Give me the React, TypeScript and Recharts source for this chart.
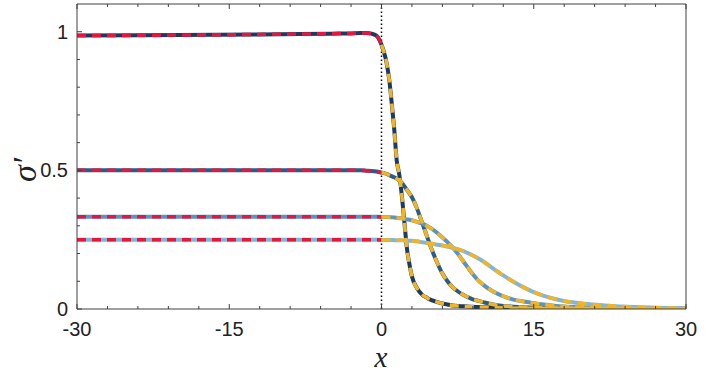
import { Line, LineChart, ReferenceLine, XAxis, YAxis } from "recharts";

const X = [
  -30, -20, -10, -5, -3, -2, -1.5, -1, -0.5, 0, 0.25, 0.5, 0.75, 1, 1.25, 1.5, 1.75, 2, 2.25, 2.5, 2.75, 3,
  3.5, 4, 4.5, 5, 5.5, 6, 6.5, 7, 7.5, 8, 8.5, 9, 9.5, 10, 11, 12, 13, 14, 15, 16, 17, 18, 20, 22, 25, 30,
];

// sigma' for the four cases
const S1 = [
  0.986, 0.988, 0.991, 0.993, 0.994, 0.995, 0.995, 0.993, 0.986, 0.953, 0.925, 0.888, 0.83, 0.745, 0.65, 0.535,
  0.485, 0.41, 0.315, 0.22, 0.162, 0.117, 0.075, 0.052, 0.04, 0.031, 0.025, 0.02, 0.016, 0.013, 0.011, 0.01,
  0.009, 0.008, 0.007, 0.006, 0.005, 0.004, 0.003, 0.003, 0.0025, 0.002, 0.002, 0.0015, 0.0015, 0.001, 0.001,
  0.001,
];
const S2 = [
  0.5, 0.5, 0.5, 0.5, 0.5, 0.5, 0.499, 0.498, 0.496, 0.492, 0.49, 0.487, 0.483, 0.479, 0.475, 0.47, 0.463,
  0.455, 0.443, 0.43, 0.417, 0.403, 0.362, 0.312, 0.26, 0.21, 0.166, 0.128, 0.1, 0.079, 0.064, 0.052, 0.043,
  0.035, 0.03, 0.025, 0.016, 0.011, 0.008, 0.006, 0.005, 0.004, 0.0035, 0.003, 0.002, 0.0015, 0.001, 0.001,
];
const S3 = [
  0.333, 0.333, 0.333, 0.333, 0.333, 0.333, 0.333, 0.333, 0.333, 0.332, 0.332, 0.332, 0.331, 0.331, 0.33,
  0.329, 0.328, 0.327, 0.325, 0.323, 0.322, 0.32, 0.314, 0.308, 0.299, 0.288, 0.274, 0.258, 0.241, 0.222, 0.2,
  0.175, 0.15, 0.125, 0.104, 0.088, 0.063, 0.046, 0.034, 0.027, 0.021, 0.016, 0.012, 0.009, 0.006, 0.004,
  0.002, 0.001,
];
const S4 = [
  0.25, 0.25, 0.25, 0.25, 0.25, 0.25, 0.25, 0.25, 0.25, 0.249, 0.249, 0.249, 0.249, 0.249, 0.248, 0.248,
  0.248, 0.248, 0.247, 0.247, 0.246, 0.246, 0.244, 0.241, 0.238, 0.235, 0.232, 0.229, 0.225, 0.221, 0.216,
  0.21, 0.202, 0.193, 0.183, 0.172, 0.146, 0.121, 0.098, 0.078, 0.061, 0.047, 0.037, 0.029, 0.019, 0.013,
  0.007, 0.003,
];

const X_TICKS = [-30, -27, -24, -21, -18, -15, -12, -9, -6, -3, 0, 3, 6, 9, 12, 15, 18, 21, 24, 27, 30];
const X_LABELS = [-30, -15, 0, 15, 30];
const Y_TICKS = [0, 0.1, 0.2, 0.3, 0.4, 0.5, 0.6, 0.7, 0.8, 0.9, 1];
const Y_LABELS: Record<string, string> = { "0": "0", "0.5": "0.5", "1": "1" };

const series = [
  { key: "s1", values: S1, color: "#1c3b62" },
  { key: "s2", values: S2, color: "#2b5b8b" },
  { key: "s3", values: S3, color: "#5b93c3" },
  { key: "s4", values: S4, color: "#80b5dc" },
];

const data = X.map((x, i) => {
  const row: Record<string, number | null> = { x };
  series.forEach((s) => {
    row[s.key] = s.values[i];
    row[s.key + "L"] = x <= 0 ? s.values[i] : null;
    row[s.key + "R"] = x >= 0 ? s.values[i] : null;
  });
  return row;
});

const AXIS = "#404040";
const LABEL_FONT = "'Liberation Sans', Arial, sans-serif";
const MATH_FONT = "'Liberation Serif', 'DejaVu Serif', serif";

const BottomTick = (props: any) => {
  const { x, y, payload } = props;
  const major = X_LABELS.includes(payload.value);
  return (
    <g>
      <line x1={x} x2={x} y1={y} y2={y - (major ? 5 : 3)} stroke={AXIS} />
      {major && (
        <text x={x} y={y + 27} textAnchor="middle" fontSize={20} fill="#222" fontFamily={LABEL_FONT}>
          {payload.value}
        </text>
      )}
    </g>
  );
};

const TopTick = (props: any) => {
  const { x, y, payload } = props;
  const major = X_LABELS.includes(payload.value);
  return <line x1={x} x2={x} y1={y} y2={y + (major ? 5 : 3)} stroke={AXIS} />;
};

const LeftTick = (props: any) => {
  const { x, y, payload } = props;
  const label = Y_LABELS[String(payload.value)];
  return (
    <g>
      <line x1={x} x2={x + (label ? 5 : 3)} y1={y} y2={y} stroke={AXIS} />
      {label && (
        <text x={x - 9} y={y + 7} textAnchor="end" fontSize={20} fill="#222" fontFamily={LABEL_FONT}>
          {label}
        </text>
      )}
    </g>
  );
};

const RightTick = (props: any) => {
  const { x, y, payload } = props;
  const label = Y_LABELS[String(payload.value)];
  return <line x1={x} x2={x - (label ? 5 : 3)} y1={y} y2={y} stroke={AXIS} />;
};

export default function App() {
  return (
    <div style={{ position: "absolute", left: 0, top: 0, width: 706, height: 377, background: "#fff" }}>
      <LineChart width={706} height={377} data={data} margin={{ top: 0, right: 0, left: 0, bottom: 0 }}>
        <XAxis
          dataKey="x"
          type="number"
          domain={[-30, 30]}
          ticks={X_TICKS}
          interval={0}
          height={68}
          tickSize={0}
          tickMargin={0}
          tickLine={false}
          tick={<BottomTick />}
          axisLine={{ stroke: AXIS }}
          allowDataOverflow
        />
        <XAxis
          xAxisId="top"
          orientation="top"
          dataKey="x"
          type="number"
          domain={[-30, 30]}
          ticks={X_TICKS}
          interval={0}
          height={4}
          tickSize={0}
          tickMargin={0}
          tickLine={false}
          tick={<TopTick />}
          axisLine={{ stroke: AXIS }}
        />
        <YAxis
          type="number"
          domain={[0, 1.1]}
          ticks={Y_TICKS}
          interval={0}
          width={77}
          tickSize={0}
          tickMargin={0}
          tickLine={false}
          tick={<LeftTick />}
          axisLine={{ stroke: AXIS }}
          allowDataOverflow
        />
        <YAxis
          yAxisId="right"
          orientation="right"
          type="number"
          domain={[0, 1.1]}
          ticks={Y_TICKS}
          interval={0}
          width={20}
          tickSize={0}
          tickMargin={0}
          tickLine={false}
          tick={<RightTick />}
          axisLine={{ stroke: AXIS }}
        />
        <ReferenceLine x={0} stroke="#000" strokeWidth={1.5} strokeDasharray="1.5 2.5" />
        {series.map((s) => (
          <Line
            key={s.key}
            type="monotone"
            dataKey={s.key}
            stroke={s.color}
            strokeWidth={4}
            dot={false}
            isAnimationActive={false}
          />
        ))}
        {series.map((s) => (
          <Line
            key={s.key + "L"}
            type="monotone"
            dataKey={s.key + "L"}
            stroke="#e5173d"
            strokeWidth={3.5}
            strokeDasharray="9 6"
            dot={false}
            isAnimationActive={false}
          />
        ))}
        {series.map((s) => (
          <Line
            key={s.key + "R"}
            type="monotone"
            dataKey={s.key + "R"}
            stroke="#f1b524"
            strokeWidth={3.5}
            strokeDasharray="9 6"
            dot={false}
            isAnimationActive={false}
          />
        ))}
        <text
          x={381}
          y={367}
          textAnchor="middle"
          fontSize={29}
          fontStyle="italic"
          fontFamily={MATH_FONT}
          fill="#222"
        >
          x
        </text>
        <text
          x={36}
          y={170}
          textAnchor="middle"
          fontSize={34}
          fontStyle="italic"
          fontFamily={MATH_FONT}
          fill="#222"
          transform="rotate(-90 36 170)"
        >
          σ′
        </text>
      </LineChart>
    </div>
  );
}
